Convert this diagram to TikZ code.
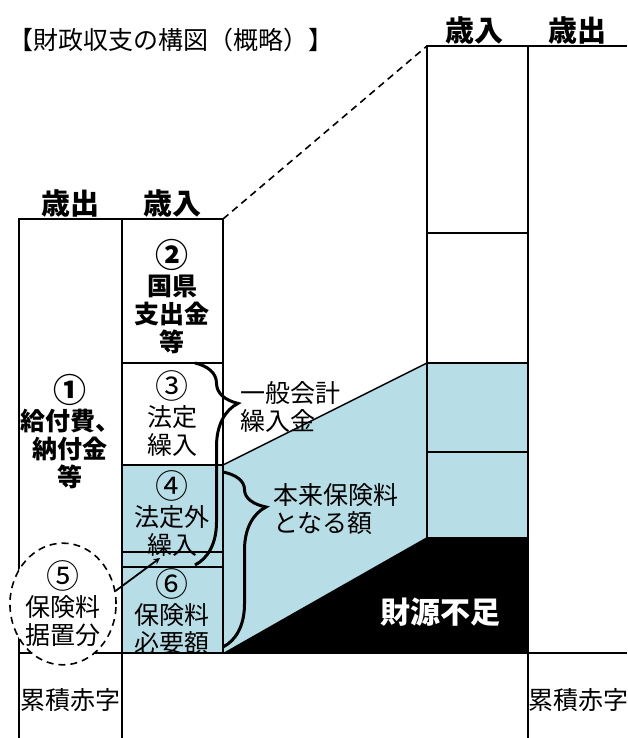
\documentclass[tikz,border=0pt]{standalone}
\usepackage{fontspec}
\setmainfont{Noto Sans CJK JP}
\usepackage{tikz}
\usetikzlibrary{arrows}
\usetikzlibrary{shapes.geometric}
\usetikzlibrary{decorations.pathreplacing}
\definecolor{hoken}{RGB}{183,222,230}
\newcommand{\maru}[1]{{\fontsize{33}{28}\selectfont #1}}
\begin{document}
\begin{tikzpicture}[>=stealth, x=1pt, y=-1pt]
			\tikzstyle{waku} = [draw, line width=2pt]
			\tikzstyle{kugiri} = [draw, line width=1.5pt]
			\tikzstyle{txt} = [align=center, inner sep=0pt, font=\fontsize{25}{28}\selectfont]
			\tikzstyle{txtb} = [txt, font=\fontsize{25}{28}\selectfont\bfseries]
			\tikzstyle{midashi} = [inner sep=0pt, font=\fontsize{29}{32}\selectfont\bfseries]
			\tikzstyle{kakko} = [decorate, decoration={brace, amplitude=43pt, aspect=0.2}, line width=3pt]
			\useasboundingbox (0,0) rectangle (627,738);
			% corners of the slope
			\coordinate (a1) at (223,219);
			\coordinate (a2) at (427,46);
			\coordinate (b1) at (223,465);
			\coordinate (b2) at (427,363);
			\coordinate (c1) at (223,653);
			\coordinate (c2) at (427,537);
			\fill[hoken] (122,465) rectangle (c1);
			\fill[hoken] (b1) -- (b2) -- (528,363) -- (528,537) -- (c2) -- (c1) -- cycle;
			\fill[black] (c1) -- (c2) -- (528,537) -- (528,653) -- cycle;
			\draw[waku] (19,738) -- (19,219) -- (a1) -- (c1);
			\draw[waku] (122,219) -- (122,738);
			\draw[waku] (19,653) -- (627,653);
			\draw[waku] (427,653) -- (a2) -- (627,46);
			\draw[waku] (528,46) -- (528,738);
			\draw[kugiri] (122,363) -- (223,363) (122,465) -- (b1) (122,552) -- (223,552) (122,567) -- (223,567);
			\draw[kugiri] (427,233) -- (528,233) (b2) -- (528,363) (427,452) -- (528,452);
			\draw[kugiri] (b1) -- (b2);
			\draw[line width=1.6pt, dash pattern=on 7pt off 5pt] (a1) -- (a2);
			% labels
			\node[anchor=west, txt] (title) at (8,40) {【財政収支の構図（概略）】};
			\node[midashi] (hL1) at (70,203) {歳出};
			\node[midashi] (hL2) at (172,203) {歳入};
			\node[midashi] (hR1) at (474,30) {歳入};
			\node[midashi] (hR2) at (577,30) {歳出};
			\node[txtb] (n1) at (70,432) {\maru{①}\\給付費、\\納付金\\等};
			\node[txtb] (n2) at (172,297) {\maru{②}\\国県\\支出金\\等};
			\node[txt] (n3) at (172,414) {\maru{③}\\法定\\繰入};
			\node[txt] (n4) at (172,514) {\maru{④}\\法定外\\繰入};
			\node[txt] (n6) at (172,612) {\maru{⑥}\\保険料\\必要額};
			\node[txt, draw, line width=1.6pt, dash pattern=on 7pt off 5pt, ellipse, fill=white, minimum width=102pt, minimum height=114pt] (n5) at (63,604) {\maru{⑤}\\保険料\\据置分};
			\coordinate (ya) at (160,558);
			\draw[->, line width=1.8pt] (n5.14) -- (ya);
			% braces
			\coordinate (k1) at (195,363);
			\coordinate (k2) at (195,565);
			\coordinate (k3) at (223,472);
			\coordinate (k4) at (223,647);
			\draw[kakko] (k1) -- (k2);
			\draw[kakko] (k3) -- (k4);
			\node[txt, anchor=west, align=left] (ippan) at (240,407) {一般会計\\繰入金};
			\node[txt, anchor=west, align=left] (honrai) at (273,509) {本来保険料\\となる額};
			\node[midashi, text=white, font=\fontsize{30}{32}\selectfont\bfseries] (fusoku) at (440,612) {財源不足};
			\node[txt] (ruiL) at (70,700) {累積赤字};
			\node[txt] (ruiR) at (578,700) {累積赤字};
\end{tikzpicture}
\end{document}
